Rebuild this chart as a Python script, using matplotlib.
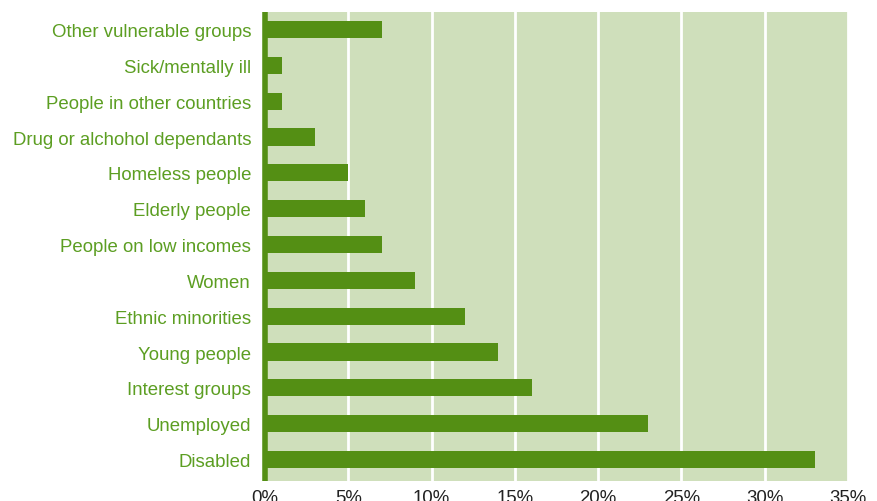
import matplotlib
matplotlib.use("Agg")
import matplotlib.pyplot as plt
from matplotlib.ticker import FuncFormatter

categories = ["Disabled", "Unemployed", "Interest groups", "Young people",
              "Ethnic minorities", "Women", "People on low incomes",
              "Elderly people", "Homeless people", "Drug or alchohol dependants",
              "People in other countries", "Sick/mentally ill",
              "Other vulnerable groups"]
values = [33, 23, 16, 14, 12, 9, 7, 6, 5, 3, 1, 1, 7]
xticks = [0, 5, 10, 15, 20, 25, 30, 35]

plt.rcParams['font.family'] = ['Liberation Sans', 'DejaVu Sans']

fig = plt.figure(figsize=(8.78, 5.02), dpi=100)
ax = fig.add_axes([265/878, 1 - 482/502, (848-265)/878, (482-13)/502])
ax.set_facecolor('#cfdfbb')
ypos = list(range(len(categories)))
ax.barh(ypos, values, height=0.48, color='#548f14', zorder=3)
ax.set_xlim(0, 35)
ax.set_ylim(-0.6, 12.49)
ax.set_xticks(xticks)
ax.xaxis.set_major_formatter(FuncFormatter(lambda v, p: f"{int(v)}%"))
ax.set_yticks(ypos)
ax.set_yticklabels(categories, color='#5c9e22', fontsize=13.4)
ax.tick_params(axis='y', length=0, pad=10)
ax.tick_params(axis='x', length=0, pad=6, labelsize=13.4, labelcolor='#222222')
ax.grid(axis='x', color='white', linewidth=2, zorder=2)
for s in ['top', 'right', 'bottom']:
    ax.spines[s].set_visible(False)
ax.spines['left'].set_color('#548f14')
ax.spines['left'].set_linewidth(4)
ax.spines['left'].set_capstyle('butt')
ax.spines['left'].set_zorder(4)
fig.savefig("out.png", dpi=100)
